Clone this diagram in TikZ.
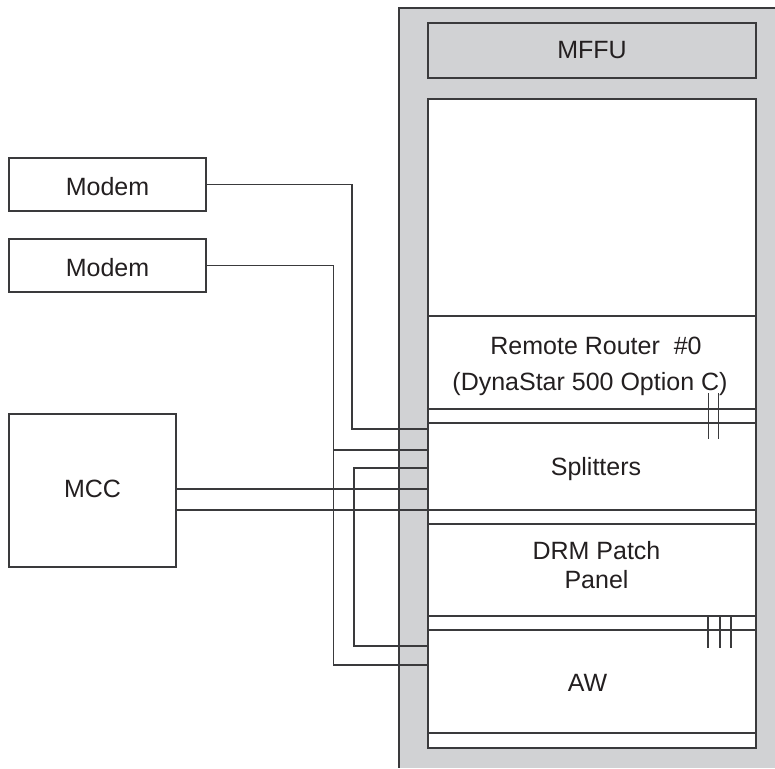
\documentclass[tikz,border=0pt]{standalone}
\usepackage{fontspec}
\setmainfont{Liberation Sans}
\definecolor{ln}{HTML}{3A3A3C}
\definecolor{panel}{HTML}{D1D2D4}
\definecolor{txt}{HTML}{231F20}
\tikzset{
  box/.style={draw=ln,line width=1.2pt,fill=white,inner sep=0pt,outer sep=0pt,font=\fontsize{25pt}{29pt}\selectfont,text=txt,align=center,anchor=north west},
  wire/.style={draw=ln,line width=1.2pt},
  lbl/.style={inner sep=0pt,font=\fontsize{25pt}{29pt}\selectfont,align=center,text=txt}
}
\begin{document}
\begin{tikzpicture}[x=1pt,y=-1pt]
\useasboundingbox (0,0) rectangle (775,768);
% cabinet
\fill[panel] (399,8) rectangle (775,768);
\draw[wire] (775,8) -- (399,8) -- (399,768);
% boxes
\node[box,fill=panel,minimum width=328pt,minimum height=55pt] (mffu) at (428,23) {MFFU};
\node[box,minimum width=328pt,minimum height=649pt] (rack) at (428,99) {};
\node[box,minimum width=197pt,minimum height=53pt,text height=21pt,text depth=0pt] (modemA) at (9,158) {Modem};
\node[box,minimum width=197pt,minimum height=53pt,text height=21pt,text depth=0pt] (modemB) at (9,239) {Modem};
\node[box,minimum width=167pt,minimum height=153pt,text height=18pt,text depth=3.6pt] (mcc) at (9,414) {MCC};
% named points on the rack's left edge
\coordinate (a1) at (rack.west |- 0,429);
\coordinate (a2) at (rack.west |- 0,450);
\coordinate (a3) at (rack.west |- 0,468);
\coordinate (a4) at (rack.west |- 0,489);
\coordinate (a5) at (rack.west |- 0,510);
\coordinate (a6) at (rack.west |- 0,646);
\coordinate (a7) at (rack.west |- 0,665);
\coordinate (m1) at (mcc.east |- 0,489);
\coordinate (m2) at (mcc.east |- 0,510);
% rack dividers
\foreach \y in {316,409,423,510,524,616,630,733}
  \draw[wire] (rack.west |- 0,\y) -- (rack.east |- 0,\y);
% tick marks
\foreach \x in {708,718}
  \draw[draw=ln,line width=0.9pt] (\x,393) -- (\x,439);
\foreach \x in {708,720,731}
  \draw[draw=ln,line width=1.2pt] (\x,616) -- (\x,648);
% connectors
\draw[wire] (modemA.east) -- (352,184.5) -- (352,429) -- (a1);
\draw[wire] (modemB.east) -- (333.5,265.5) -- (333.5,665) -- (a7);
\draw[wire] (a2) -- (333.5,450);
\draw[wire] (a3) -- (354,468) -- (354,646) -- (a6);
\draw[wire] (m1) -- (a4);
\draw[wire] (m2) -- (a5);
% labels
\node[lbl,font=\fontsize{25pt}{36pt}\selectfont] (rr) at (590,366) {\hspace*{12pt}Remote Router\ \ \#0\\(DynaStar 500 Option C)};
\node[lbl,anchor=base] (spl) at (596,475) {Splitters};
\node[lbl] (drm) at (596.5,565) {DRM Patch\\Panel};
\node[lbl,anchor=base] (aw) at (587.5,691) {AW};
\end{tikzpicture}
\end{document}
